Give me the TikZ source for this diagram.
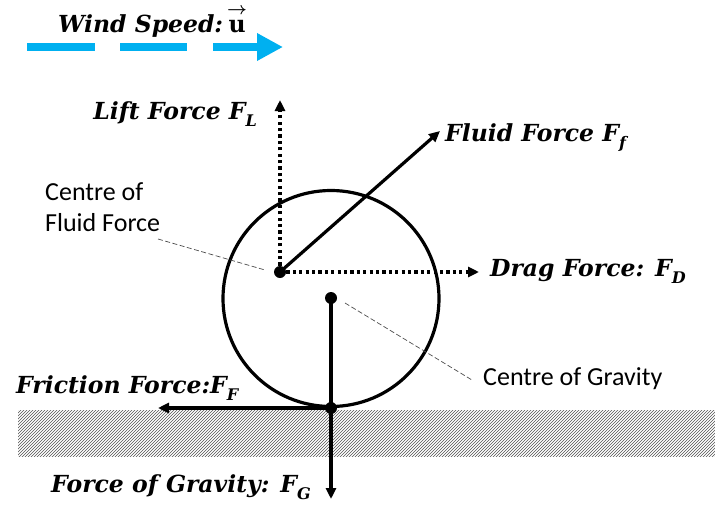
\documentclass[tikz,border=0pt]{standalone}
\usepackage{fontspec}
\usepackage{amsmath}
\setmainfont{DejaVu Serif}
\newfontfamily\lbl{Carlito}
\usetikzlibrary{arrows.meta,patterns}
\definecolor{windblue}{RGB}{0,176,240}
\newcommand\fsub[1]{\raisebox{-0.3em}{\fontsize{16}{16}\selectfont #1}}
\begin{document}
\begin{tikzpicture}[x=1pt,y=-1pt,
  force/.style={line width=3.2pt,-{Triangle[length=11pt,width=10pt]}},
  dotforce/.style={force,dash pattern=on 3.2pt off 3.2pt},
  dotnode/.style={circle,fill=black,inner sep=0pt,minimum size=12pt},
  flabel/.style={font=\fontsize{23.5}{28}\selectfont\bfseries\itshape,inner sep=0pt},
  clabel/.style={font=\lbl\fontsize{26}{31}\selectfont,inner sep=0pt,align=left},
  leader/.style={gray!60!black,line width=0.7pt,dash pattern=on 5pt off 2.5pt},
  wind/.style={windblue,line width=8pt}]
\useasboundingbox (0,0) rectangle (715,506);
% ground
\fill[pattern=north east lines,pattern color=gray!65!black] (18,410) rectangle (715,456);
% wind
\node[flabel,anchor=base west] (windlbl) at (58,32) {Wind Speed:\,$\overset{\boldsymbol{\to}}{\mathbf{u}}$};
\coordinate (w1a) at (27,47); \coordinate (w1b) at (95,47);
\coordinate (w2a) at (120,47); \coordinate (w2b) at (187,47);
\coordinate (w3a) at (213,47); \coordinate (w3b) at (283,47);
\draw[wind] (w1a) -- (w1b);
\draw[wind] (w2a) -- (w2b);
\draw[wind,-{Triangle[length=26pt,width=26pt]}] (w3a) -- (w3b);
% ball
\node[draw,circle,line width=3.2pt,minimum size=216pt,inner sep=0pt] (ball) at (331,298.5) {};
\node[dotnode] (cf) at (280,272) {};
\node[dotnode] (cg) at (331,298) {};
\node[dotnode] (cp) at (331,408) {};
% arrow ends
\coordinate (liftend) at (280,100);
\coordinate (fluidend) at (440,131);
\coordinate (dragend) at (479,272);
\coordinate (gravend) at (331,499);
\coordinate (fricend) at (158,408);
\draw[dotforce] (cf.center) -- (liftend);
\draw[dotforce] (cf.center) -- (dragend);
\draw[force] (cf.center) -- (fluidend);
\draw[force] (cg.center) -- (gravend);
\draw[force] (cp.center) -- (fricend);
% force labels
\node[flabel,anchor=base east] (lift) at (257,119) {Lift Force F\fsub{L}};
\node[flabel,anchor=base west] (fluid) at (445,141) {Fluid Force F\fsub{f}};
\node[flabel,anchor=base west] (drag) at (490,276) {Drag Force: F\fsub{D}};
\node[flabel,anchor=base west] (fric) at (16,393) {Friction Force:F\fsub{F}};
\node[flabel,anchor=base west] (grav) at (51,492) {Force of Gravity: F\fsub{G}};
% centre labels
\node[clabel,anchor=base west] (cfl) at (45,231) {Centre of\\Fluid Force};
\node[clabel,anchor=base west] (cgl) at (483,385) {Centre of Gravity};
\coordinate (cfa) at (158,239); \coordinate (cfb) at (265,270);
\coordinate (cga) at (345,303); \coordinate (cgb) at (472,380);
\draw[leader] (cfa) -- (cfb);
\draw[leader] (cga) -- (cgb);
\end{tikzpicture}
\end{document}
